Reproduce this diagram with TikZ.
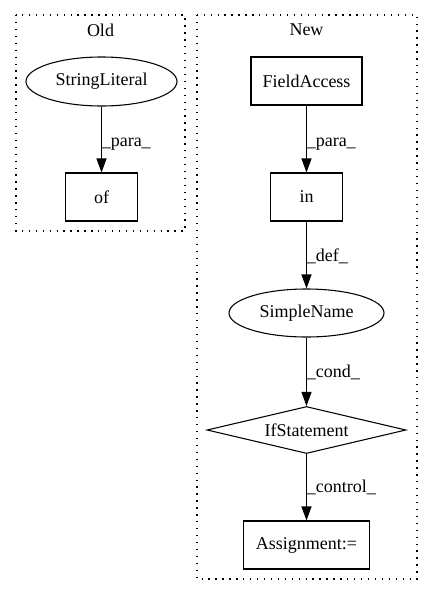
\documentclass[tikz,border=0pt]{standalone}
\usepackage{fontspec}
\setmainfont{Liberation Serif}
\usetikzlibrary{shapes.geometric,arrows.meta}
\begin{document}
\begin{tikzpicture}[x=0.75pt,y=-0.75pt,
 every node/.style={font=\fontsize{13.5}{16}\selectfont},
 box/.style={draw,rectangle,line width=0.8pt,minimum height=36pt,inner sep=0pt},
 oval/.style={draw,ellipse,line width=0.8pt,inner sep=0pt},
 condbox/.style={draw,diamond,aspect=4.2,line width=0.8pt,inner sep=0pt},
 cluster/.style={draw,line width=0.8pt,dash pattern=on 1pt off 4.2pt},
 edgearrow/.style={line width=0.8pt,-{Triangle[length=10.5pt,width=7.5pt]}},
 elabel/.style={anchor=base west,inner sep=0pt}]
\useasboundingbox (0,0) rectangle (432,596);
% clusters
\draw[cluster] (16,15) rectangle (185,231);
\node (oldt) at (100.5,30) {Old};
\draw[cluster] (197,15) rectangle (417,579);
\node (newt) at (306.5,30) {New};
% Old nodes
\node[oval,minimum width=113.25pt,minimum height=36.75pt] (sl) at (101.5,81.5) {StringLiteral};
\node[box,minimum width=54pt] (of) at (101.5,197) {of};
% New nodes
\node[box,minimum width=83.25pt] (fa) at (306.5,81) {FieldAccess};
\node[box,minimum width=54pt] (in) at (306.5,197) {in};
\node[oval,minimum width=116.25pt,minimum height=36pt] (sn) at (306.5,313) {SimpleName};
\node[condbox,minimum width=149.25pt,minimum height=35.25pt] (ifs) at (306.5,430) {IfStatement};
\node[box,minimum width=94.5pt] (as) at (306.5,545) {Assignment:=};
% edges
\draw[edgearrow] (sl) -- (of);
\draw[edgearrow] (fa) -- (in);
\draw[edgearrow] (in) -- (sn);
\draw[edgearrow] (sn) -- (ifs);
\draw[edgearrow] (ifs) -- (as);
% labels
\node[elabel] (l1) at (101.5,146) {\_para\_};
\node[elabel] (l2) at (306.5,146) {\_para\_};
\node[elabel] (l3) at (306.5,261) {\_def\_};
\node[elabel] (l4) at (306.5,377) {\_cond\_};
\node[elabel] (l5) at (306.5,492) {\_control\_};
\end{tikzpicture}
\end{document}
